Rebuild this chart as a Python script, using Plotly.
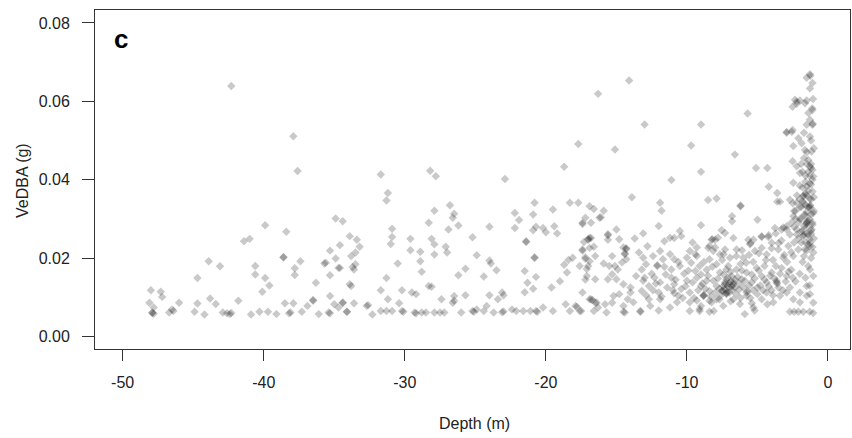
import plotly.graph_objects as go

# (depth m, VeDBA g)
deep_points = [
    (-42.3, 0.0639), (-37.9, 0.0511), (-37.6, 0.0422), (-34.9, 0.0301), (-34.4, 0.0294),
    (-39.9, 0.0284), (-38.4, 0.0267), (-41.4, 0.0243), (-41.0, 0.0249), (-33.9, 0.0256),
    (-43.9, 0.0192), (-43.1, 0.0179), (-38.6, 0.0202), (-38.6, 0.0202), (-37.4, 0.0192),
    (-37.8, 0.0174), (-37.8, 0.0157), (-40.6, 0.0180), (-40.6, 0.0158), (-39.9, 0.0149),
    (-39.6, 0.0130), (-40.1, 0.0114), (-44.7, 0.0149), (-35.3, 0.0219), (-34.9, 0.0199),
    (-34.6, 0.0233), (-35.7, 0.0186), (-35.6, 0.0188), (-35.3, 0.0156), (-34.7, 0.0175),
    (-36.3, 0.0137), (-48.0, 0.0118), (-47.3, 0.0114), (-47.2, 0.0101), (-48.1, 0.0086),
    (-47.8, 0.0074), (-47.9, 0.0061), (-47.8, 0.0058), (-47.9, 0.0060), (-46.7, 0.0061),
    (-46.5, 0.0069), (-46.4, 0.0065), (-46.0, 0.0086), (-44.9, 0.0063), (-44.7, 0.0084),
    (-44.2, 0.0056), (-43.8, 0.0097), (-43.4, 0.0083), (-42.9, 0.0061), (-42.6, 0.0059),
    (-42.4, 0.0057), (-42.3, 0.0060), (-41.8, 0.0091), (-40.9, 0.0056), (-40.3, 0.0063),
    (-39.7, 0.0063), (-39.1, 0.0057), (-38.5, 0.0085), (-37.9, 0.0085), (-38.2, 0.0059),
    (-38.1, 0.0061), (-37.3, 0.0063), (-36.9, 0.0078), (-36.5, 0.0093), (-36.5, 0.0091),
    (-36.1, 0.0057), (-35.3, 0.0103), (-35.4, 0.0061), (-35.3, 0.0059), (-35.0, 0.0082),
    (-34.7, 0.0074), (-34.1, 0.0063), (-34.4, 0.0086), (-33.7, 0.0177), (-33.5, 0.0214),
]

mid_points = [
    (-16.3, 0.0619), (-17.7, 0.0491), (-18.7, 0.0433), (-22.9, 0.0402), (-31.7, 0.0413),
    (-28.2, 0.0423), (-27.8, 0.0409), (-31.2, 0.0366), (-31.3, 0.0347), (-26.8, 0.0335),
    (-26.5, 0.0313), (-27.9, 0.0321), (-28.3, 0.0290), (-28.1, 0.0249), (-27.9, 0.0235),
    (-27.9, 0.0209), (-27.1, 0.0229), (-27.0, 0.0214), (-26.9, 0.0273), (-26.6, 0.0303),
    (-26.2, 0.0283), (-30.9, 0.0275), (-30.9, 0.0254), (-31.0, 0.0236), (-29.6, 0.0249),
    (-29.6, 0.0220), (-28.9, 0.0216), (-28.9, 0.0192), (-28.8, 0.0165), (-30.5, 0.0186),
    (-31.3, 0.0149), (-31.7, 0.0118), (-31.2, 0.0095), (-30.2, 0.0118), (-29.5, 0.0112),
    (-29.2, 0.0108), (-28.3, 0.0129), (-28.1, 0.0127), (-27.4, 0.0095), (-26.5, 0.0103),
    (-26.5, 0.0091), (-25.7, 0.0105), (-26.2, 0.0156), (-25.7, 0.0173), (-25.2, 0.0253),
    (-24.9, 0.0207), (-24.4, 0.0153), (-24.0, 0.0280), (-24.0, 0.0194), (-23.9, 0.0186),
    (-23.5, 0.0169), (-24.0, 0.0105), (-23.1, 0.0112), (-23.0, 0.0105), (-23.4, 0.0095),
    (-22.2, 0.0315), (-21.9, 0.0297), (-22.2, 0.0277), (-20.8, 0.0341), (-20.9, 0.0311),
    (-20.9, 0.0271), (-20.7, 0.0280), (-20.2, 0.0277), (-20.0, 0.0266), (-19.5, 0.0324),
    (-19.4, 0.0281), (-19.2, 0.0263), (-21.4, 0.0241), (-21.4, 0.0243), (-20.8, 0.0202),
    (-20.8, 0.0200), (-21.5, 0.0167), (-21.3, 0.0137), (-21.5, 0.0113), (-20.9, 0.0122),
    (-20.7, 0.0152), (-19.6, 0.0125), (-19.0, 0.0141), (-18.5, 0.0163), (-18.4, 0.0195),
    (-18.1, 0.0201), (-18.7, 0.0183), (-18.3, 0.0341), (-17.7, 0.0341), (-16.9, 0.0332),
    (-16.6, 0.0325), (-17.2, 0.0303), (-17.4, 0.0287), (-16.2, 0.0303), (-17.0, 0.0249),
    (-17.0, 0.0247), (-17.3, 0.0241), (-16.6, 0.0229), (-17.4, 0.0219), (-17.2, 0.0202),
    (-16.9, 0.0192), (-17.1, 0.0172), (-17.2, 0.0145), (-33.4, 0.0247), (-33.2, 0.0229),
    (-33.8, 0.0205), (-33.5, 0.0184), (-33.6, 0.0171), (-34.6, 0.0175), (-33.9, 0.0133),
    (-33.8, 0.0129), (-16.1, 0.0304), (-15.9, 0.0321), (-16.8, 0.0290), (-17.4, 0.0290),
    (-15.0, 0.0273), (-15.6, 0.0258), (-15.6, 0.0261), (-15.6, 0.0247), (-16.8, 0.0251),
    (-16.9, 0.0251), (-17.4, 0.0222), (-16.9, 0.0226), (-16.5, 0.0205), (-17.2, 0.0198),
    (-17.6, 0.0180), (-17.0, 0.0180), (-17.1, 0.0154), (-16.5, 0.0146), (-17.4, 0.0112),
    (-16.9, 0.0095), (-16.4, 0.0086), (-15.9, 0.0186), (-15.5, 0.0180), (-15.3, 0.0159),
    (-15.6, 0.0146), (-15.2, 0.0103), (-15.3, 0.0086), (-15.8, 0.0082),
]

floor_points = [
    (-34.4, 0.0086), (-33.6, 0.0085), (-34.1, 0.0063), (-32.6, 0.0080), (-32.3, 0.0056),
    (-31.7, 0.0065), (-31.3, 0.0065), (-30.9, 0.0065), (-30.2, 0.0065), (-30.1, 0.0063),
    (-30.4, 0.0085), (-29.3, 0.0061), (-29.2, 0.0059), (-28.8, 0.0061), (-28.5, 0.0061),
    (-27.9, 0.0061), (-27.5, 0.0061), (-27.2, 0.0061), (-26.6, 0.0086), (-26.0, 0.0061),
    (-25.2, 0.0065), (-25.1, 0.0063), (-24.9, 0.0069), (-24.4, 0.0065), (-24.2, 0.0078),
    (-23.7, 0.0061), (-23.1, 0.0062), (-23.0, 0.0064), (-22.4, 0.0069), (-22.1, 0.0065),
    (-21.6, 0.0065), (-21.1, 0.0065), (-20.7, 0.0065), (-20.6, 0.0063), (-20.2, 0.0074),
    (-19.5, 0.0065), (-18.6, 0.0082), (-18.3, 0.0065), (-17.9, 0.0078), (-17.8, 0.0076),
    (-17.6, 0.0065), (-16.8, 0.0095), (-16.7, 0.0093), (-16.5, 0.0086), (-16.3, 0.0074),
    (-16.6, 0.0065), (-17.5, 0.0065), (-15.7, 0.0061), (-14.5, 0.0063), (-14.4, 0.0061),
    (-13.3, 0.0063), (-12.0, 0.0066), (-11.2, 0.0074), (-9.1, 0.0070), (-8.4, 0.0063),
    (-5.9, 0.0057), (-5.2, 0.0066), (-2.7, 0.0063), (-2.4, 0.0063), (-2.1, 0.0063),
    (-1.75, 0.0063), (-1.3, 0.0063), (-1.05, 0.0060), (-32.7, 0.0078),
]

shallow_points = [
    (-14.1, 0.0653), (-13.0, 0.0541), (-9.0, 0.0541), (-5.7, 0.0569), (-15.1, 0.0477),
    (-9.7, 0.0487), (-6.6, 0.0464), (-9.0, 0.0420), (-5.1, 0.0430), (-4.3, 0.0430),
    (-11.1, 0.0399), (-13.9, 0.0355), (-11.9, 0.0341), (-11.8, 0.0321), (-8.5, 0.0348),
    (-7.9, 0.0352), (-6.2, 0.0332), (-6.2, 0.0334), (-6.8, 0.0307), (-6.8, 0.0294),
    (-5.0, 0.0298), (-4.2, 0.0382), (-3.6, 0.0366), (-3.6, 0.0344), (-3.4, 0.0344),
    (-9.0, 0.0284), (-12.0, 0.0282), (-13.1, 0.0263), (-13.7, 0.0250), (-14.8, 0.0248),
    (-14.5, 0.0227), (-14.3, 0.0223), (-14.3, 0.0225), (-10.5, 0.0269), (-10.4, 0.0256),
    (-10.9, 0.0251), (-11.2, 0.0252), (-11.6, 0.0243), (-9.6, 0.0240), (-9.3, 0.0227),
    (-9.8, 0.0218), (-8.2, 0.0248), (-7.8, 0.0252), (-8.4, 0.0231), (-8.0, 0.0227),
    (-13.4, 0.0214), (-13.1, 0.0201), (-12.9, 0.0184), (-13.2, 0.0171), (-14.4, 0.0210),
    (-14.4, 0.0212), (-14.3, 0.0197), (-14.6, 0.0189), (-15.3, 0.0205), (-15.1, 0.0180),
    (-14.9, 0.0171), (-12.4, 0.0205), (-11.9, 0.0218), (-11.7, 0.0197), (-12.1, 0.0180),
    (-12.1, 0.0182), (-11.2, 0.0210), (-10.9, 0.0197), (-10.5, 0.0180), (-11.1, 0.0171),
    (-10.0, 0.0201), (-9.7, 0.0188), (-9.3, 0.0205), (-9.1, 0.0180), (-9.4, 0.0167),
    (-8.4, 0.0197), (-7.9, 0.0184), (-7.4, 0.0210), (-7.2, 0.0171), (-13.6, 0.0154),
    (-13.1, 0.0142), (-12.7, 0.0129), (-13.2, 0.0116), (-15.0, 0.0146), (-14.5, 0.0133),
    (-14.0, 0.0125), (-14.8, 0.0108), (-14.2, 0.0095), (-12.3, 0.0150), (-11.9, 0.0138),
    (-11.4, 0.0125), (-12.0, 0.0112), (-11.1, 0.0150), (-10.9, 0.0133), (-10.4, 0.0121),
    (-10.0, 0.0142), (-9.8, 0.0112), (-10.6, 0.0104), (-9.3, 0.0150), (-9.0, 0.0129),
    (-8.6, 0.0142), (-8.4, 0.0116), (-8.8, 0.0104), (-8.8, 0.0106), (-7.9, 0.0129),
    (-7.5, 0.0116), (-7.5, 0.0118), (-7.3, 0.0133), (-7.2, 0.0108), (-7.2, 0.0110),
    (-7.7, 0.0095), (-13.8, 0.0087), (-13.3, 0.0065), (-14.5, 0.0078), (-12.6, 0.0078),
    (-11.9, 0.0095), (-10.7, 0.0087), (-9.8, 0.0087), (-9.0, 0.0078), (-8.4, 0.0091),
    (-8.1, 0.0065), (-9.8, 0.0065), (-9.1, 0.0065), (-8.25, 0.0247), (-8.0, 0.0247),
    (-7.54, 0.0271), (-7.3, 0.0264), (-6.71, 0.0251), (-5.65, 0.0247), (-5.29, 0.0247),
    (-4.70, 0.0256), (-4.23, 0.0254), (-3.76, 0.0277), (-3.29, 0.0273), (-2.93, 0.0273),
    (-6.48, 0.0222), (-6.0, 0.0201), (-5.53, 0.0235), (-5.18, 0.0218), (-4.70, 0.0226),
    (-4.35, 0.0209), (-3.99, 0.0239), (-3.52, 0.0222), (-3.17, 0.0201), (-2.81, 0.0231),
    (-7.66, 0.0209), (-7.30, 0.0222), (-6.95, 0.0201), (-8.49, 0.0226), (-8.13, 0.0218),
    (-7.42, 0.0129), (-7.07, 0.0180), (-6.83, 0.0154), (-6.48, 0.0171), (-6.12, 0.0146),
    (-5.77, 0.0163), (-5.41, 0.0138), (-5.06, 0.0175), (-4.70, 0.0154), (-4.35, 0.0138),
    (-3.99, 0.0163), (-3.64, 0.0142), (-3.29, 0.0175), (-2.93, 0.0154), (-8.13, 0.0142),
    (-7.66, 0.0163), (-7.1, 0.0150), (-6.9, 0.0140), (-6.7, 0.0133), (-7.0, 0.0125),
    (-6.6, 0.0145), (-7.3, 0.0138), (-7.0, 0.0135), (-6.8, 0.0128), (-5.77, 0.0112),
    (-5.7, 0.0115), (-3.64, 0.0138), (-3.6, 0.0135), (-8.84, 0.0104), (-7.42, 0.0078),
    (-7.19, 0.0112), (-6.71, 0.0095), (-6.24, 0.0083), (-5.77, 0.0104), (-5.29, 0.0074),
    (-4.70, 0.0095), (-4.35, 0.0112), (-3.88, 0.0087), (-3.40, 0.0104), (-2.93, 0.0112),
    (-2.46, 0.0095), (-1.99, 0.0087), (-1.51, 0.0104), (-8.25, 0.0087), (-7.9, 0.0095),
    (-4.7, 0.0254), (-4.2, 0.0258), (-3.7, 0.0263), (-3.17, 0.0278), (-3.5, 0.0238),
    (-5.5, 0.0238), (-6.1, 0.0220), (-12.5, 0.0160), (-10.2, 0.0160), (-6.3, 0.0120),
    (-5.0, 0.0125), (-4.0, 0.0118), (-6.2, 0.0185), (-5.3, 0.0190), (-4.5, 0.0180),
    (-3.9, 0.0195), (-2.9, 0.0190), (-2.6, 0.0170), (-8.6, 0.0170), (-12.8, 0.0230),
]

surface_points = [
    (-1.28, 0.0669), (-1.25, 0.0665), (-1.51, 0.0660), (-1.10, 0.0647), (-1.28, 0.0633),
    (-1.06, 0.0606), (-1.51, 0.0602), (-1.99, 0.0602), (-2.34, 0.0604), (-2.51, 0.0586),
    (-2.22, 0.0594), (-1.10, 0.0578), (-1.12, 0.0582), (-1.39, 0.0570), (-1.28, 0.0553),
    (-1.10, 0.0540), (-1.08, 0.0543), (-1.51, 0.0540), (-2.93, 0.0520), (-2.51, 0.0527),
    (-2.10, 0.0506), (-1.28, 0.0510), (-2.46, 0.0486), (-1.87, 0.0493), (-1.16, 0.0472),
    (-1.63, 0.0476), (-2.51, 0.0447), (-2.22, 0.0434), (-1.99, 0.0417), (-1.28, 0.0434),
    (-1.04, 0.0408), (-2.46, 0.0392), (-1.51, 0.0383), (-1.75, 0.0357), (-1.72, 0.0360),
    (-2.70, 0.0349), (-2.22, 0.0341), (-1.28, 0.0332), (-1.25, 0.0335), (-1.30, 0.0329),
    (-1.04, 0.0315), (-2.46, 0.0307), (-1.51, 0.0290), (-1.48, 0.0293), (-1.54, 0.0287),
    (-1.16, 0.0273), (-2.22, 0.0273), (-1.75, 0.0256), (-1.72, 0.0259), (-2.93, 0.0281),
    (-1.28, 0.0239), (-1.04, 0.0214), (-1.63, 0.0222), (-2.46, 0.0205), (-1.28, 0.0171),
    (-1.04, 0.0154), (-1.51, 0.0129), (-1.99, 0.0112), (-1.28, 0.0108), (-1.04, 0.0086),
    (-1.4, 0.0450), (-1.2, 0.0430), (-1.6, 0.0410), (-1.3, 0.0390), (-1.1, 0.0370),
    (-1.5, 0.0360), (-1.2, 0.0350), (-1.7, 0.0340), (-1.4, 0.0330), (-1.0, 0.0320),
    (-1.6, 0.0310), (-1.3, 0.0300), (-1.9, 0.0300), (-1.1, 0.0290), (-1.5, 0.0280),
    (-1.2, 0.0270), (-1.8, 0.0270), (-1.4, 0.0260), (-1.0, 0.0250), (-1.6, 0.0240),
    (-1.3, 0.0230), (-2.1, 0.0250), (-2.3, 0.0320), (-2.0, 0.0350), (-2.4, 0.0280),
    (-1.2, 0.0440), (-1.5, 0.0470), (-1.2, 0.0500), (-1.0, 0.0480), (-1.7, 0.0520),
    (-1.4, 0.0420), (-1.1, 0.0400), (-1.8, 0.0380), (-2.0, 0.0300), (-2.2, 0.0260),
    (-1.5, 0.0220), (-1.2, 0.0200), (-1.8, 0.0190), (-1.4, 0.0180), (-2.0, 0.0160),
    (-1.6, 0.0150), (-2.3, 0.0140), (-1.3, 0.0130), (-2.5, 0.0340), (-2.4, 0.0320),
    (-2.6, 0.0290), (-2.2, 0.0360), (-2.0, 0.0330), (-2.93, 0.0522), (-2.57, 0.0522),
    (-1.63, 0.0595), (-2.22, 0.0599), (-1.9, 0.0440), (-1.7, 0.0310), (-1.9, 0.0240),
]

# extra points in the darkest, most overlapped part of the cloud
dense_points = [
    (-12.9, 0.0105), (-12.4, 0.0118), (-11.8, 0.0102), (-11.5, 0.0158), (-11.0, 0.0118),
    (-10.8, 0.0145), (-10.3, 0.0098), (-10.1, 0.0128), (-9.9, 0.0168), (-9.6, 0.0138),
    (-9.5, 0.0098), (-9.2, 0.0118), (-9.0, 0.0158), (-8.9, 0.0135), (-8.7, 0.0122),
    (-8.5, 0.0155), (-8.3, 0.0102), (-8.2, 0.0178), (-8.0, 0.0112), (-7.8, 0.0148),
    (-7.7, 0.0122), (-7.6, 0.0105), (-7.4, 0.0158), (-7.3, 0.0120), (-7.2, 0.0145),
    (-7.1, 0.0128), (-7.0, 0.0112), (-6.9, 0.0165), (-6.8, 0.0118), (-6.7, 0.0138),
    (-6.6, 0.0125), (-6.5, 0.0108), (-6.4, 0.0152), (-6.3, 0.0135), (-6.2, 0.0098),
    (-6.1, 0.0168), (-6.0, 0.0125), (-5.9, 0.0142), (-5.8, 0.0188), (-5.6, 0.0130),
    (-5.5, 0.0098), (-5.4, 0.0158), (-5.3, 0.0118), (-5.2, 0.0148), (-5.0, 0.0108),
    (-4.9, 0.0168), (-4.8, 0.0130), (-4.6, 0.0118), (-4.5, 0.0145), (-4.4, 0.0195),
    (-4.2, 0.0128), (-4.1, 0.0155), (-3.9, 0.0105), (-3.8, 0.0148), (-3.7, 0.0180),
    (-3.5, 0.0125), (-3.4, 0.0160), (-3.2, 0.0118), (-3.1, 0.0208), (-3.0, 0.0140),
    (-2.8, 0.0165), (-2.7, 0.0125), (-2.6, 0.0215), (-2.5, 0.0150), (-2.4, 0.0240),
    (-12.2, 0.0135), (-13.0, 0.0150), (-11.6, 0.0178), (-10.6, 0.0190), (-9.4, 0.0210),
    (-8.8, 0.0190), (-7.5, 0.0195), (-6.5, 0.0205), (-5.6, 0.0208), (-4.9, 0.0212),
    (-4.0, 0.0225), (-3.3, 0.0245), (-2.7, 0.0260), (-6.9, 0.0090), (-5.4, 0.0085),
    (-4.3, 0.0082), (-9.3, 0.0092), (-10.9, 0.0110), (-12.7, 0.0095), (-14.0, 0.0112),
    (-1.9, 0.0330), (-1.8, 0.0345), (-1.6, 0.0365), (-1.5, 0.0318), (-1.4, 0.0295),
    (-1.3, 0.0352), (-1.2, 0.0312), (-1.1, 0.0285), (-1.7, 0.0282), (-1.5, 0.0262),
    (-1.3, 0.0248), (-1.1, 0.0228), (-1.9, 0.0268), (-2.1, 0.0290), (-1.6, 0.0395),
    (-1.4, 0.0372), (-1.2, 0.0388), (-1.0, 0.0355), (-1.8, 0.0420), (-1.3, 0.0410),
    (-1.1, 0.0425), (-1.5, 0.0440), (-1.7, 0.0455), (-2.0, 0.0385), (-2.3, 0.0300),
    (-2.1, 0.0222), (-1.7, 0.0205), (-1.4, 0.0235), (-1.2, 0.0262), (-1.6, 0.0335),
]

groups = [deep_points, mid_points, floor_points, shallow_points, surface_points, dense_points]
depth = [p[0] for g in groups for p in g]
vedba = [p[1] for g in groups for p in g]

y_ticks = [0.0, 0.02, 0.04, 0.06, 0.08]
y_tick_labels = ["0.00", "0.02", "0.04", "0.06", "0.08"]
x_ticks = [-50, -40, -30, -20, -10, 0]
x_tick_labels = ["-50", "-40", "-30", "-20", "-10", "0"]

FONT = "Liberation Sans, Arial, sans-serif"

fig = go.Figure()
fig.add_trace(go.Scatter(
    x=depth, y=vedba, mode="markers",
    marker=dict(symbol="diamond", size=6.5, color="rgba(0,0,0,0.21)", line=dict(width=0)),
    hoverinfo="skip", showlegend=False,
))

axis_common = dict(
    showline=True, mirror=True, linecolor="#333333", linewidth=1,
    ticks="outside", tickcolor="#333333", tickwidth=1,
    showgrid=False, zeroline=False,
    tickfont=dict(family=FONT, size=16, color="#222222"),
)

fig.update_layout(
    width=852, height=438,
    margin=dict(l=95, r=2, t=10, b=89),
    paper_bgcolor="white", plot_bgcolor="white",
    xaxis=dict(range=[-51.96, 1.56], tickvals=x_ticks, ticktext=x_tick_labels,
               ticklen=11, ticklabelstandoff=8, **axis_common),
    yaxis=dict(range=[-0.0032, 0.0833], tickvals=y_ticks, ticktext=y_tick_labels,
               ticklen=12, ticklabelstandoff=9, **axis_common),
    annotations=[
        dict(text="Depth (m)", x=0.503, y=-0.221, xref="paper", yref="paper",
             showarrow=False, xanchor="center", yanchor="middle",
             font=dict(family=FONT, size=16, color="#222222")),
        dict(text="VeDBA (g)", x=-0.0967, y=0.4985, xref="paper", yref="paper",
             showarrow=False, xanchor="center", yanchor="middle", textangle=-90,
             font=dict(family=FONT, size=16, color="#222222")),
        dict(text="<b>c</b>", x=0.0344, y=0.9145, xref="paper", yref="paper",
             showarrow=False, xanchor="center", yanchor="middle",
             font=dict(family=FONT, size=26, color="black")),
    ],
)

fig.write_html(
    "out.html",
    config={"displayModeBar": False, "staticPlot": True},
    post_script="document.body.style.margin='0';document.body.style.overflow='hidden';",
)
